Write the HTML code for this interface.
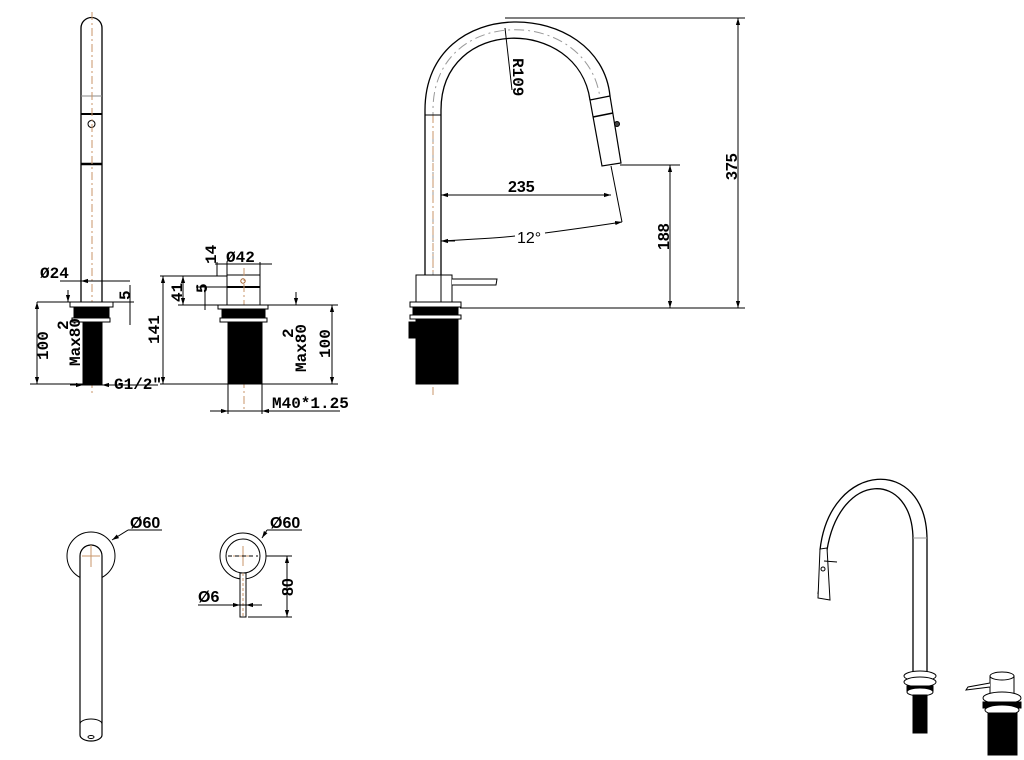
<!DOCTYPE html>
<html><head><meta charset="utf-8"><style>
html,body{margin:0;padding:0;background:#fff;}
svg{display:block;}
text{font-family:"Liberation Sans",sans-serif;fill:#000;}
.m{font-family:"Liberation Mono","DejaVu Sans Mono",monospace;font-weight:bold;}
</style></head><body>
<svg width="1024" height="760" viewBox="0 0 1024 760" xmlns="http://www.w3.org/2000/svg">
<defs>
<marker id="a" viewBox="0 0 10 10" refX="10" refY="5" markerWidth="7" markerHeight="7" orient="auto-start-reverse"><path d="M0,2 L10,5 L0,8z" fill="#000"/></marker>
</defs>
<g stroke="#000" fill="none" stroke-width="1">
<!-- ===== Left side view ===== -->
<path d="M81,302 V28 A10.5,10.5 0 0 1 102,28 V302" stroke-width="1.3"/>
<line x1="81" y1="96" x2="102" y2="96" stroke="#888"/>
<line x1="81" y1="114" x2="102" y2="114" stroke-width="2"/>
<line x1="81" y1="164" x2="102" y2="164" stroke-width="2.5"/>
<circle cx="91.5" cy="124" r="3.5"/>
<line x1="92" y1="12" x2="92" y2="395" stroke="#c9966a" stroke-dasharray="8,3,2,3"/>
<rect x="70" y="302" width="43" height="5" fill="#fff"/>
<rect x="74" y="307" width="35" height="11" fill="#000"/>
<rect x="72" y="318" width="38" height="4" fill="#fff"/>
<rect x="83" y="322" width="19" height="63" fill="#000"/>
<!-- dims -->
<line x1="37" y1="302" x2="134" y2="302"/>
<line x1="60" y1="281" x2="130" y2="281"/>
<line x1="102" y1="281" x2="81" y2="281" marker-end="url(#a)"/>
<line x1="37" y1="302" x2="37" y2="384" marker-start="url(#a)" marker-end="url(#a)"/>
<line x1="30" y1="384" x2="83" y2="384"/>
<line x1="130" y1="285" x2="130" y2="325"/>
<line x1="68" y1="290" x2="68" y2="302" marker-end="url(#a)"/>
<line x1="72" y1="385" x2="158" y2="385"/>
<line x1="70" y1="385" x2="83" y2="385" marker-end="url(#a)"/>
<line x1="115" y1="385" x2="102" y2="385" marker-end="url(#a)"/>
<!-- ===== Control side view ===== -->
<rect x="227" y="275" width="33" height="30" fill="#fff"/>
<line x1="227" y1="287" x2="260" y2="287" stroke-width="2"/>
<circle cx="243" cy="281" r="2.2" stroke="#a06030"/>
<line x1="244" y1="268" x2="244" y2="410" stroke="#c9966a" stroke-dasharray="8,3,2,3"/>
<rect x="218" y="305" width="50" height="4" fill="#fff"/>
<rect x="222" y="309" width="43" height="9" fill="#000"/>
<rect x="220" y="318" width="47" height="4" fill="#fff"/>
<rect x="228" y="322" width="34" height="62" fill="#000"/>
<line x1="160" y1="276" x2="227" y2="276"/>
<line x1="178" y1="305" x2="338" y2="305"/>
<line x1="160" y1="384" x2="338" y2="384"/>
<line x1="163" y1="276" x2="163" y2="384" marker-start="url(#a)" marker-end="url(#a)"/>
<line x1="183" y1="276" x2="183" y2="305" marker-start="url(#a)" marker-end="url(#a)"/>
<line x1="196" y1="287" x2="227" y2="287"/>
<line x1="205" y1="287" x2="205" y2="310"/>
<line x1="217" y1="262" x2="217" y2="276"/>
<line x1="215" y1="264" x2="272" y2="264"/>
<line x1="227" y1="262" x2="227" y2="275"/><line x1="260" y1="262" x2="260" y2="275"/>
<line x1="296" y1="292" x2="296" y2="305" marker-end="url(#a)"/>
<line x1="332" y1="305" x2="332" y2="384" marker-start="url(#a)" marker-end="url(#a)"/>
<line x1="228" y1="384" x2="228" y2="414"/><line x1="262" y1="384" x2="262" y2="414"/>
<line x1="210" y1="411" x2="340" y2="411"/>
<line x1="210" y1="411" x2="228" y2="411" marker-end="url(#a)"/>
<line x1="280" y1="411" x2="262" y2="411" marker-end="url(#a)"/>
<!-- ===== Big faucet ===== -->
<path d="M425,302 V110 C425,-8 600,-2 610,96" stroke-width="1.3"/>
<path d="M441,302 V110 C441,16 578,16 590,100" stroke-width="1.3"/>
<path d="M433,302 V110 C433,4 588,6 600,98" stroke="#999" stroke-dasharray="10,4,2,4"/>
<line x1="433" y1="115" x2="433" y2="395" stroke="#c9966a" stroke-dasharray="8,3,2,3"/>
<line x1="425" y1="115" x2="441" y2="115"/>
<path d="M590,100 L610,96 L621,163 L602,166 Z" fill="#fff" stroke-width="1.2"/>
<line x1="593" y1="117" x2="613" y2="113" stroke-width="1.5"/>
<circle cx="617" cy="124" r="2.5" fill="#444"/>
<line x1="505" y1="28" x2="512" y2="90"/>
<line x1="505" y1="18" x2="745" y2="18"/>
<line x1="738" y1="18" x2="738" y2="308" marker-start="url(#a)" marker-end="url(#a)"/>
<line x1="620" y1="165" x2="680" y2="165"/>
<line x1="670" y1="165" x2="670" y2="308" marker-start="url(#a)" marker-end="url(#a)"/>
<line x1="460" y1="308" x2="745" y2="308"/>
<line x1="441" y1="195" x2="611" y2="195" marker-start="url(#a)" marker-end="url(#a)"/>
<line x1="611" y1="166" x2="622" y2="222"/>
<path d="M441,241 Q500,238 515,236" />
<path d="M545,233 Q590,227 622,222" marker-end="url(#a)"/>
<line x1="441" y1="241" x2="455" y2="241" marker-start="url(#a)"/>
<rect x="416" y="275" width="36" height="27" fill="#fff"/>
<line x1="441" y1="275" x2="441" y2="302"/>
<path d="M452,279 H497 L496,285 H452" fill="#fff"/>
<rect x="410" y="302" width="51" height="5" fill="#fff"/>
<rect x="413" y="307" width="45" height="8" fill="#000"/>
<rect x="410" y="315" width="51" height="4" fill="#fff"/>
<rect x="416" y="319" width="42" height="65" fill="#000"/>
<rect x="409" y="322" width="8" height="16" fill="#000"/>
<!-- ===== Bottom left top view ===== -->
<circle cx="91" cy="556" r="24" fill="#fff"/>
<path d="M80,735 V556 A11,11 0 0 1 102,556 V735 A11,6 0 0 1 80,735 Z" fill="#fff" stroke-width="1.2"/>
<path d="M80,724 A11,5 0 0 1 102,724"/>
<ellipse cx="91" cy="737" rx="3" ry="1.5"/>
<line x1="91" y1="545" x2="91" y2="567" stroke="#c9966a"/><line x1="82" y1="556" x2="100" y2="556" stroke="#c9966a"/>
<line x1="128" y1="530" x2="162" y2="530"/>
<line x1="128" y1="530" x2="112" y2="540" marker-end="url(#a)"/>
<!-- control top -->
<circle cx="243" cy="556" r="23" fill="#fff"/>
<circle cx="243" cy="556" r="17"/>
<rect x="240" y="573" width="6" height="44" fill="#fff"/>
<line x1="243" y1="573" x2="243" y2="617" stroke="#c9966a" stroke-dasharray="3,2"/>
<line x1="243" y1="546" x2="243" y2="566" stroke="#c9966a"/><line x1="233" y1="556" x2="253" y2="556" stroke="#c9966a"/>
<line x1="228" y1="556" x2="258" y2="556" stroke-dasharray="4,3"/>
<line x1="267" y1="530" x2="302" y2="530"/>
<line x1="267" y1="530" x2="262" y2="538" marker-end="url(#a)"/>
<line x1="266" y1="556" x2="292" y2="556"/>
<line x1="248" y1="617" x2="292" y2="617"/>
<line x1="287" y1="556" x2="287" y2="617" marker-start="url(#a)" marker-end="url(#a)"/>
<line x1="198" y1="605" x2="262" y2="605"/>
<line x1="230" y1="605" x2="240" y2="605" marker-end="url(#a)"/>
<line x1="260" y1="605" x2="246" y2="605" marker-end="url(#a)"/>
<!-- ===== Isometric ===== -->
<path d="M913,675 V540 C913,470 840,470 827,550 L818,594" stroke-width="1.3"/>
<path d="M927,675 V540 C927,455 830,460 820,550" stroke-width="1.3"/>
<line x1="913" y1="538" x2="927" y2="538" stroke="#999"/>
<path d="M827,548 L820,549 L818,598 L830,600 Z" fill="#fff"/>
<line x1="824" y1="561" x2="837" y2="562"/>
<circle cx="823" cy="569" r="2"/>
<ellipse cx="920" cy="676" rx="16" ry="5" fill="#fff"/>
<ellipse cx="920" cy="682" rx="16" ry="5" fill="#fff"/>
<rect x="907" y="686" width="26" height="5" fill="#000"/>
<ellipse cx="920" cy="692" rx="13" ry="4" fill="#fff"/>
<rect x="913" y="695" width="14" height="38" fill="#000"/>
<rect x="990" y="676" width="24" height="20" fill="#fff"/>
<ellipse cx="1002" cy="676" rx="12" ry="4" fill="#fff"/>
<path d="M990,683 L968,687 L966,690 L990,687" fill="#fff"/>
<ellipse cx="1002" cy="698" rx="19" ry="6" fill="#fff"/>
<rect x="983" y="702" width="38" height="6" fill="#000"/>
<ellipse cx="1002" cy="710" rx="17" ry="5" fill="#fff"/>
<rect x="988" y="713" width="29" height="42" fill="#000"/>
</g>
<!-- text -->
<g class="m" font-size="16">
<text x="40" y="278" class="m">Ø24</text>
<text x="114" y="389" class="m">G1/2"</text>
<text x="226" y="262" class="m">Ø42</text>
<text x="272" y="408" class="m">M40*1.25</text>
<text transform="translate(130,300) rotate(-90)" class="m">5</text>
<text transform="translate(48,360) rotate(-90)" class="m">100</text>
<text transform="translate(68,330) rotate(-90)" class="m">2</text>
<text transform="translate(80,366) rotate(-90)" class="m">Max80</text>
<text transform="translate(159,344) rotate(-90)" class="m">141</text>
<text transform="translate(182,302) rotate(-90)" class="m">41</text>
<text transform="translate(207,293) rotate(-90)" class="m">5</text>
<text transform="translate(216,264) rotate(-90)" class="m">14</text>
<text transform="translate(293,338) rotate(-90)" class="m">2</text>
<text transform="translate(306,372) rotate(-90)" class="m">Max80</text>
<text transform="translate(330,358) rotate(-90)" class="m">100</text>
<text transform="translate(513,58) rotate(90)" class="m">R109</text>
</g>
<g font-size="16" font-weight="bold">
<text x="508" y="192">235</text>
<text x="517" y="243" font-weight="normal">12°</text>
<text transform="translate(669,250) rotate(-90)">188</text>
<text transform="translate(737,180) rotate(-90)">375</text>
<text x="130" y="528">Ø60</text>
<text x="270" y="528">Ø60</text>
<text x="198" y="602">Ø6</text>
<text transform="translate(293,596) rotate(-90)">80</text>
</g>
</svg>
</body></html>
